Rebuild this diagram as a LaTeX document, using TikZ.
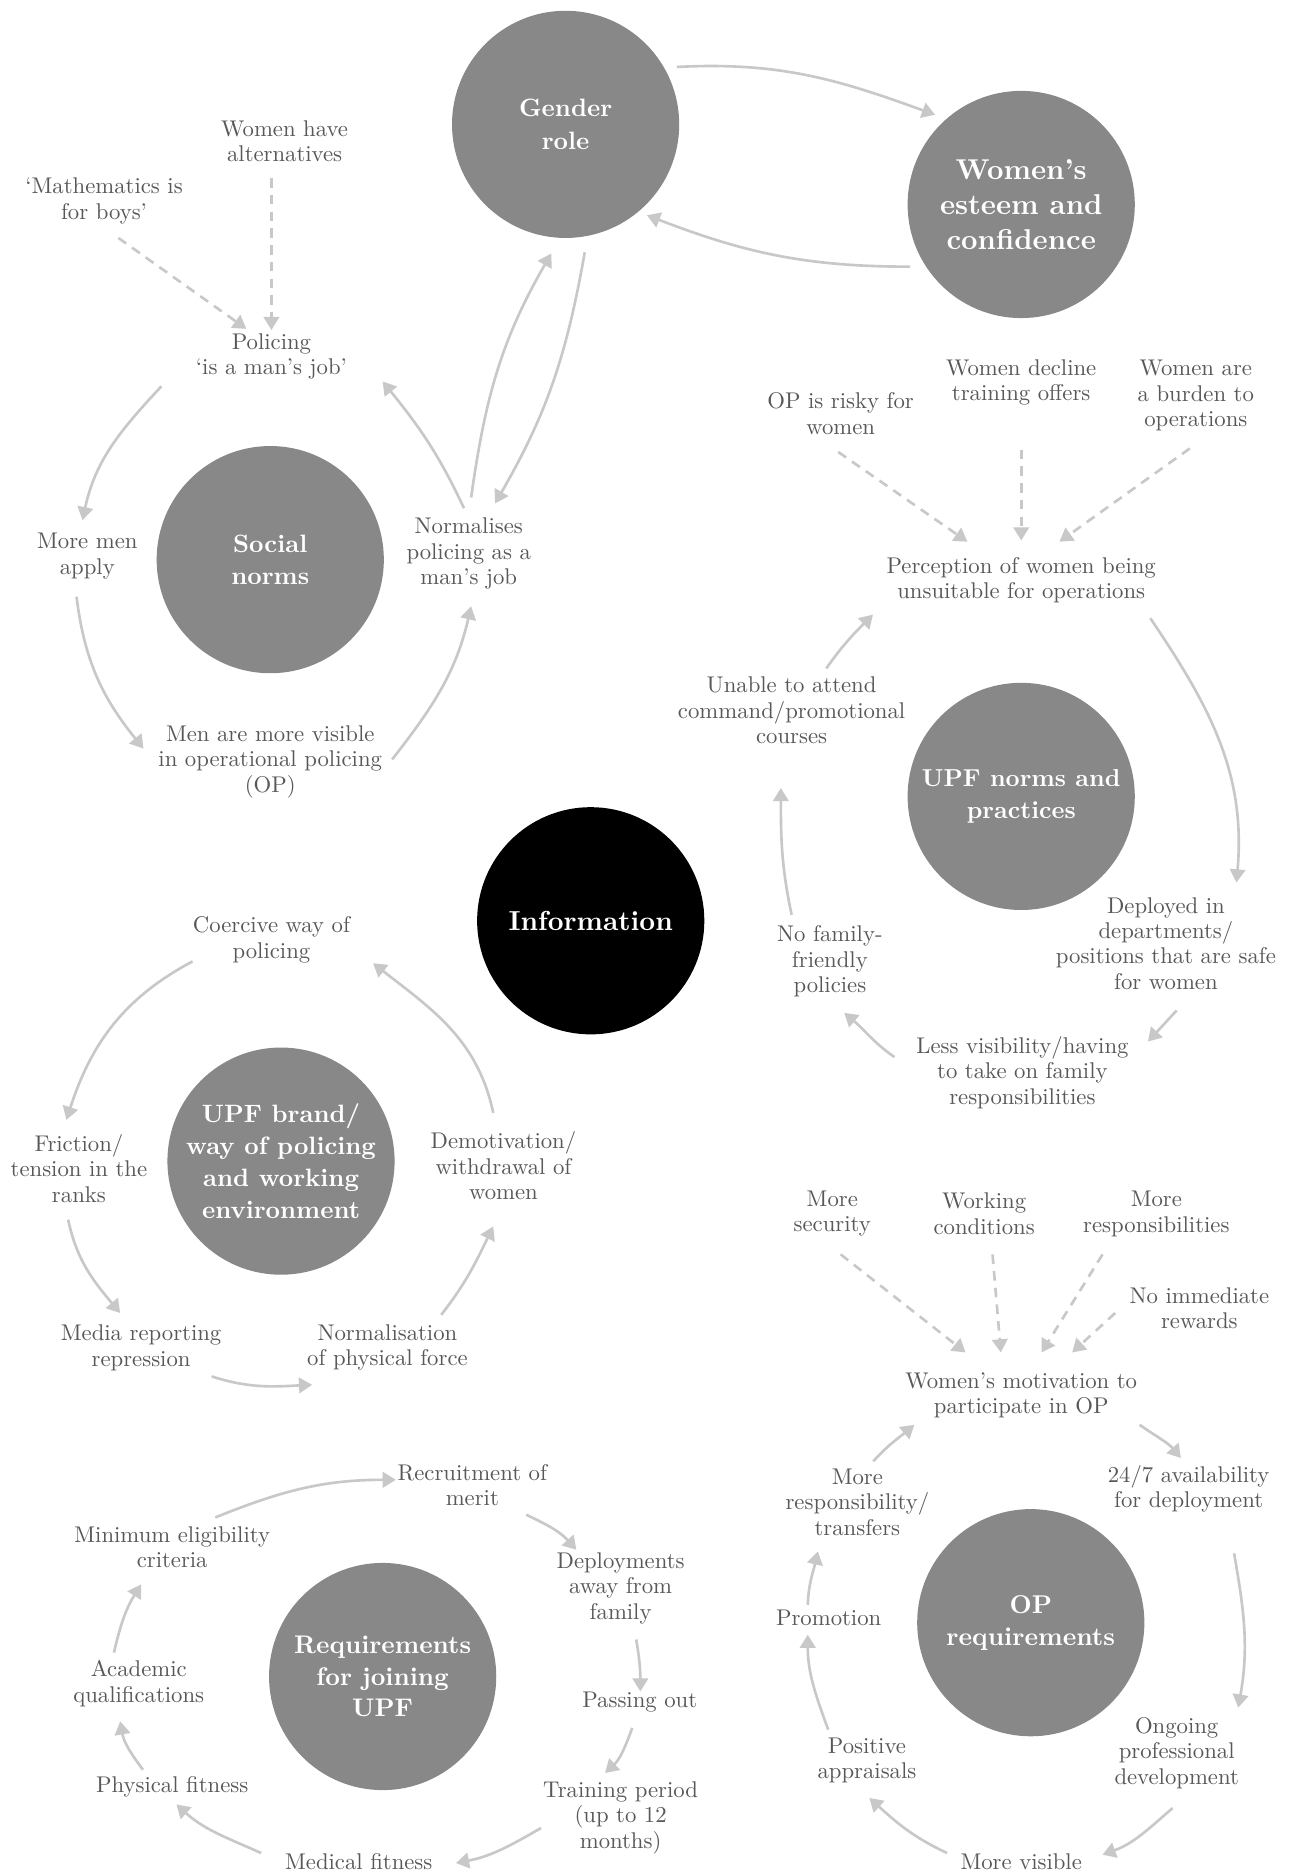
\documentclass[tikz,border=0pt]{standalone}
\usepackage{fontspec}
\setmainfont{lmroman10-regular.otf}[BoldFont=lmroman10-bold.otf]
\usetikzlibrary{arrows.meta}
\definecolor{circ}{RGB}{136,136,136}
\definecolor{lab}{RGB}{88,88,88}
\definecolor{conn}{RGB}{200,200,200}
\tikzset{
  lbl/.style={align=center, text=lab, inner sep=0pt, font=\fontsize{19}{21.3}\selectfont},
  hub/.style={circle, fill=circ, minimum size=190pt, inner sep=0pt, align=center, text=white,
              font=\bfseries\fontsize{21}{27}\selectfont},
  arr/.style={draw=conn, line width=2.2pt, -{Triangle[length=11pt,width=13pt]}},
  darr/.style={arr, dash pattern=on 8pt off 6pt},
}
\begin{document}
\begin{tikzpicture}[x=1pt,y=1pt]
\useasboundingbox (0,0) rectangle (1081,-1568);
\fill[white] (0,0) rectangle (1081,-1568);

% hubs
\node[hub] (gender) at (473,-104) {Gender\\role};
\node[hub, font=\bfseries\fontsize{24}{29.5}\selectfont] (esteem) at (854,-171) {Women’s\\esteem and\\confidence};
\node[hub] (social) at (226,-468) {Social\\norms};
\node[hub, fill=black, font=\bfseries\fontsize{23}{28}\selectfont] (info) at (494,-770) {Information};
\node[hub, font=\bfseries\fontsize{20.5}{27}\selectfont] (upfnorms) at (854,-666) {UPF norms and\\practices};
\node[hub, font=\bfseries\fontsize{21}{26.7}\selectfont] (brand) at (235,-971) {UPF brand/\\way of policing\\and working\\environment};
\node[hub, font=\bfseries\fontsize{21.3}{26.5}\selectfont] (req) at (320,-1402) {Requirements\\for joining\\UPF};
\node[hub, font=\bfseries\fontsize{21.5}{26.5}\selectfont] (opreq) at (862,-1357) {OP\\requirements};

% labels
\node[lbl] (walt) at (238,-118) {Women have\\alternatives};
\node[lbl] (math) at (87,-168) {‘Mathematics is\\for boys’};
\node[lbl] (pol) at (227,-298) {Policing\\‘is a man’s job’};
\node[lbl] (moremen) at (73,-465) {More men\\apply};
\node[lbl] (normal) at (392,-463) {Normalises\\policing as a\\man’s job};
\node[lbl] (visible) at (226,-637) {Men are more visible\\in operational policing\\(OP)};
\node[lbl] (risky) at (703,-346) {OP is risky for\\women};
\node[lbl] (decline) at (854,-320) {Women decline\\training offers};
\node[lbl] (burden) at (1000,-331) {Women are\\a burden to\\operations};
\node[lbl] (percep) at (854,-485) {Perception of women being\\unsuitable for operations};
\node[lbl] (unable) at (662,-594) {Unable to attend\\command/promotional\\courses};
\node[lbl] (deployed) at (975,-789) {Deployed in\\departments/\\positions that are safe\\for women};
\node[lbl] (nofam) at (694,-804) {No family-\\friendly\\policies};
\node[lbl] (lessvis) at (855,-897) {Less visibility/having\\to take on family\\responsibilities};
\node[lbl] (coercive) at (227,-786) {Coercive way of\\policing};
\node[lbl] (friction) at (66,-977) {Friction/\\tension in the\\ranks};
\node[lbl] (demot) at (421,-975) {Demotivation/\\withdrawal of\\women};
\node[lbl] (media) at (118,-1127) {Media reporting\\repression};
\node[lbl] (normforce) at (324,-1127) {Normalisation\\of physical force};
\node[lbl] (moresec) at (696,-1015) {More\\security};
\node[lbl] (workcond) at (823,-1015) {Working\\conditions};
\node[lbl] (moreresp) at (967,-1015) {More\\responsibilities};
\node[lbl] (noimm) at (1003,-1094) {No immediate\\rewards};
\node[lbl] (motiv) at (854,-1167) {Women’s motivation to\\participate in OP};
\node[lbl] (respt) at (717,-1256) {More\\responsibility/\\transfers};
\node[lbl] (avail) at (994,-1245) {24/7 availability\\for deployment};
\node[lbl] (promo) at (693,-1353) {Promotion};
\node[lbl] (ongoing) at (984,-1466) {Ongoing\\professional\\development};
\node[lbl] (posapp) at (725,-1472) {Positive\\appraisals};
\node[lbl] (morevis) at (854,-1557) {More visible};
\node[lbl] (recruit) at (395,-1242) {Recruitment of\\merit};
\node[lbl] (mineli) at (144,-1294) {Minimum eligibility\\criteria};
\node[lbl] (deploy) at (519,-1328) {Deployments\\away from\\family};
\node[lbl] (academic) at (116,-1408) {Academic\\qualifications};
\node[lbl] (passing) at (535,-1423) {Passing out};
\node[lbl] (physical) at (144,-1494) {Physical fitness};
\node[lbl] (training) at (519,-1520) {Training period\\(up to 12\\months)};
\node[lbl] (medical) at (300,-1557) {Medical fitness};

% top cluster
\draw[arr] ([shift={(93,48)}]gender.center) to[out=3,in=160] ([shift={(-72,75)}]esteem.center);
\draw[arr] ([shift={(-93,-52)}]esteem.center) to[out=180,in=-21] ([shift={(68,-76)}]gender.center);
\draw[arr] ([shift={(16,-107)}]gender.center) to[out=-100,in=60] ([shift={(22,42)}]normal.center);
\draw[arr] ([shift={(2,47)}]normal.center) to[out=82,in=240] ([shift={(-12,-108)}]gender.center);
\draw[arr] ([shift={(-4,38)}]normal.center) to[out=115,in=-51] ([shift={(93,-21)}]pol.center);
\draw[arr] ([shift={(-92,-25)}]pol.center) to[out=227,in=78] ([shift={(-4,30)}]moremen.center);
\draw[arr] ([shift={(-9,-34)}]moremen.center) to[out=-83,in=129] ([shift={(-106,11)}]visible.center);
\draw[arr] ([shift={(102,2)}]visible.center) to[out=52,in=257] ([shift={(2,-44)}]normal.center);
\draw[darr] ([shift={(12,-31)}]math.center) -- ([shift={(-21,23)}]pol.center);
\draw[darr] ([shift={(-11,-31)}]walt.center) -- ([shift={(0,22)}]pol.center);

% UPF norms cluster
\draw[darr] ([shift={(-2,-32)}]risky.center) -- ([shift={(-45,32)}]percep.center);
\draw[darr] ([shift={(0,-56)}]decline.center) -- ([shift={(0,33)}]percep.center);
\draw[darr] ([shift={(-5,-44)}]burden.center) -- ([shift={(32,32)}]percep.center);
\draw[arr] ([shift={(108,-32)}]percep.center) to[out=-56,in=85] ([shift={(59,51)}]deployed.center);
\draw[arr] ([shift={(9,-56)}]deployed.center) -- ([shift={(105,26)}]lessvis.center);
\draw[arr] ([shift={(-107,13)}]lessvis.center) to[out=145,in=-40] ([shift={(12,-43)}]nofam.center);
\draw[arr] ([shift={(-32,39)}]nofam.center) to[out=102,in=270] ([shift={(-9,-65)}]unable.center);
\draw[arr] ([shift={(29,35)}]unable.center) to[out=55,in=-135] ([shift={(-124,-29)}]percep.center);

% UPF brand cluster
\draw[arr] ([shift={(-66,-18)}]coercive.center) to[out=208,in=72] ([shift={(-10.5,40.5)}]friction.center);
\draw[arr] ([shift={(-9,-43)}]friction.center) to[out=-78,in=130] ([shift={(-17.5,29)}]media.center);
\draw[arr] ([shift={(59,-24)}]media.center) to[out=-18,in=183] ([shift={(-63,-31)}]normforce.center);
\draw[arr] ([shift={(45,27.5)}]normforce.center) to[out=52,in=244] ([shift={(-8.5,-50.6)}]demot.center);
\draw[arr] ([shift={(-8.5,44.3)}]demot.center) to[out=102,in=-38] ([shift={(85,-19.5)}]coercive.center);

% OP cluster
\draw[darr] ([shift={(7,-34)}]moresec.center) -- ([shift={(-46.5,36)}]motiv.center);
\draw[darr] ([shift={(7,-34)}]workcond.center) -- ([shift={(-17,36)}]motiv.center);
\draw[darr] ([shift={(-45,-34)}]moreresp.center) -- ([shift={(17,36)}]motiv.center);
\draw[darr] ([shift={(-70.4,-4)}]noimm.center) -- ([shift={(42.6,36)}]motiv.center);
\draw[arr] ([shift={(99,-24.5)}]motiv.center) to[out=-35,in=130] ([shift={(-6.5,25.7)}]avail.center);
\draw[arr] ([shift={(38,-54)}]avail.center) to[out=-80,in=80] ([shift={(51.5,38)}]ongoing.center);
\draw[arr] ([shift={(-3.4,-46)}]ongoing.center) to[out=221,in=20] ([shift={(68,6)}]morevis.center);
\draw[arr] ([shift={(-62,7.4)}]morevis.center) to[out=155,in=-42] ([shift={(2,-31.6)}]posapp.center);
\draw[arr] ([shift={(-32.4,25.5)}]posapp.center) to[out=110,in=270] ([shift={(-17.5,-14)}]promo.center);
\draw[arr] ([shift={(-17.5,11)}]promo.center) to[out=88,in=257] ([shift={(-33,-41.4)}]respt.center);
\draw[arr] ([shift={(13.3,34)}]respt.center) to[out=48,in=220] ([shift={(-89.4,-24.5)}]motiv.center);

% requirements cluster
\draw[arr] ([shift={(36,25)}]mineli.center) to[out=22,in=180] ([shift={(-64,4.5)}]recruit.center);
\draw[arr] ([shift={(45,-24.7)}]recruit.center) to[out=-25,in=132] ([shift={(-37,32)}]deploy.center);
\draw[arr] ([shift={(13,-43)}]deploy.center) to[out=-80,in=90] ([shift={(0.5,8.5)}]passing.center);
\draw[arr] ([shift={(-6.3,-22)}]passing.center) to[out=250,in=43] ([shift={(-13,37.3)}]training.center);
\draw[arr] ([shift={(-66.6,-8.7)}]training.center) to[out=210,in=11] ([shift={(81.3,-1)}]medical.center);
\draw[arr] ([shift={(-81.6,7.4)}]medical.center) to[out=156,in=-42] ([shift={(3.5,-15)}]physical.center);
\draw[arr] ([shift={(-24.4,14)}]physical.center) to[out=127,in=280] ([shift={(-15.5,-31.5)}]academic.center);
\draw[arr] ([shift={(-20.7,26)}]academic.center) to[out=77,in=238] ([shift={(-26,-31)}]mineli.center);
\end{tikzpicture}
\end{document}
